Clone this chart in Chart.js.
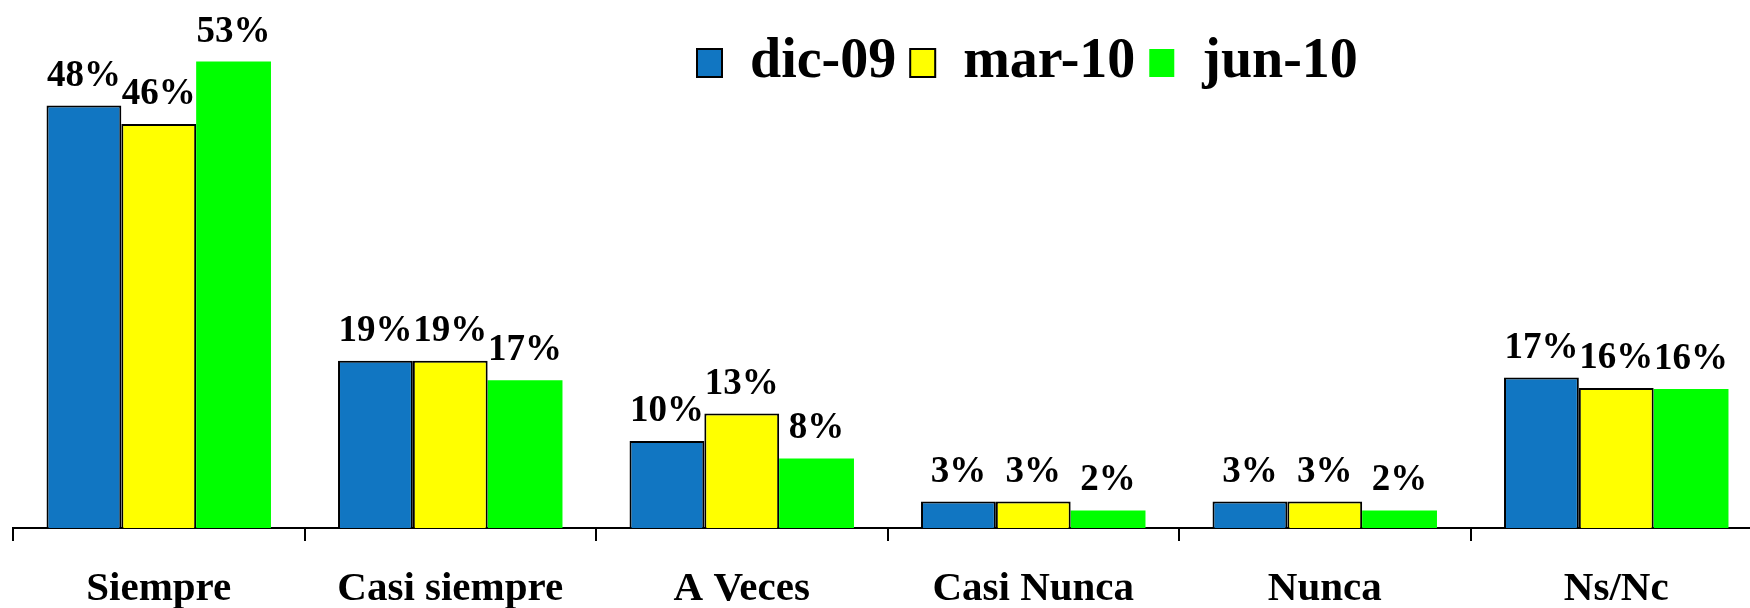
<!DOCTYPE html>
<html>
<head>
<meta charset="utf-8">
<script src="https://cdn.jsdelivr.net/npm/chart.js@4/dist/chart.umd.min.js"></script>
<style>
  html, body { margin: 0; padding: 0; background: #fff; overflow: hidden; }
  #wrap { width: 1762px; height: 608px; }
</style>
</head>
<body>
<div id="wrap"><canvas id="barras"></canvas></div>
<script>
// respuestas (categorias del eje x)
const categorias = ['Siempre', 'Casi siempre', 'A Veces', 'Casi Nunca', 'Nunca', 'Ns/Nc'];
const series = ['dic-09', 'mar-10', 'jun-10'];

// porcentajes
const dic09 = [48, 19, 9.9, 3, 3, 17.1];
const mar10 = [45.9, 19, 13, 3, 3, 15.9];
const jun10 = [53, 16.8, 7.9, 2, 2, 15.8];

const FUENTE = '"Liberation Serif", "Times New Roman", serif';
const LEGEND_X = 697;
const LEGEND_Y = 35;

// la leyenda no reserva espacio: se dibuja encima del area del grafico
const leyendaEncima = {
    id: 'leyendaEncima',
    beforeLayout(chart){
        const lg = chart.legend;
        if(!lg || lg._parcheado) return;
        const fit = lg.fit;
        lg.fit = function(){
            fit.call(this);
            this._altoReal = this.height;
            this.height = 0;
        };
        lg._parcheado = true;
    },
    afterLayout(chart){
        const lg = chart.legend;
        const pad = lg.options.labels.padding;
        const dx = LEGEND_X - (lg.left + pad);
        lg.left += dx;
        lg.right += dx;
        lg.height = lg._altoReal;
        lg.top = LEGEND_Y - pad;
        lg.bottom = lg.top + lg.height;
    }
};

// etiquetas de porcentaje encima de cada barra
const etiquetas = {
    id: 'etiquetas',
    afterDatasetsDraw(chart){
        const ctx = chart.ctx;
        ctx.save();
        ctx.font = 'bold 37px ' + FUENTE;
        ctx.fillStyle = '#000';
        ctx.textAlign = 'center';
        ctx.textBaseline = 'alphabetic';
        chart.data.datasets.forEach((ds, i) => {
            chart.getDatasetMeta(i).data.forEach((bar, j) => {
                ctx.fillText(Math.round(ds.data[j]) + '%', bar.x, bar.y - 20);
            });
        });
        ctx.restore();
    }
};

const ctx = document.getElementById('barras').getContext('2d');
new Chart(ctx, {
    type: 'bar',
    data: {
        labels: categorias,
        datasets: [
            {label: series[0], data: dic09, backgroundColor: '#1176C2', borderColor: '#000', borderWidth: 2},
            {label: series[1], data: mar10, backgroundColor: '#FFFF00', borderColor: '#000', borderWidth: 2},
            {label: series[2], data: jun10, backgroundColor: '#00FF00', borderWidth: 0},
        ]
    },
    options: {
        responsive: true,
        maintainAspectRatio: false,
        animation: false,
        datasets: {
            bar: { categoryPercentage: 0.77, barPercentage: 1.0 }
        },
        layout: { padding: { left: 13, right: 0, top: 0, bottom: 0 } },
        scales: {
            x: {
                offset: true,
                afterFit(scale){ scale.height = 80; },
                grid: { offset: true, drawOnChartArea: false, tickLength: 13, color: '#000', lineWidth: 2 },
                border: { display: true, color: '#000', width: 2 },
                ticks: {
                    color: '#000',
                    padding: 24,
                    maxRotation: 0,
                    autoSkip: false,
                    font: { family: FUENTE, size: 41, weight: 'bold' }
                }
            },
            y: { display: false, min: 0, max: 60 }
        },
        plugins: {
            legend: {
                display: true,
                position: 'top',
                align: 'start',
                labels: {
                    color: '#000',
                    boxWidth: 25,
                    boxHeight: 28,
                    padding: 14,
                    font: { family: FUENTE, size: 56, weight: 'bold' }
                }
            },
            tooltip: { enabled: false },
            title: { display: false }
        }
    },
    plugins: [leyendaEncima, etiquetas]
});
</script>
</body>
</html>
